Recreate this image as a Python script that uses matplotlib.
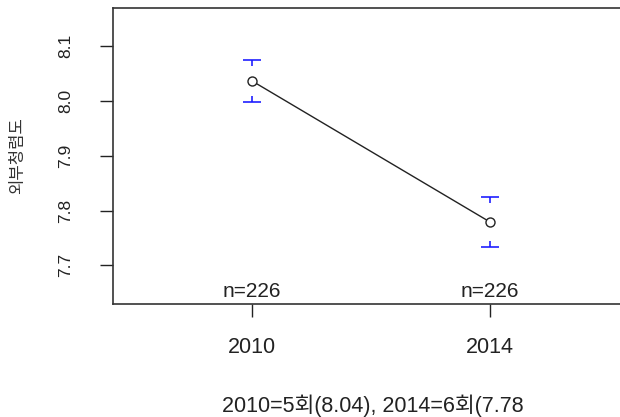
import matplotlib.pyplot as plt
from matplotlib.path import Path

plt.rcParams['font.family'] = ['Liberation Sans', 'Noto Sans CJK KR']

years = ['2010', '2014']
means = [8.036, 7.779]
ci_upper = [8.074, 7.824]
ci_lower = [7.998, 7.733]
counts = [226, 226]
yticks = [7.7, 7.8, 7.9, 8.0, 8.1]
ylabel = '외부청렴도'
xlabel = '2010=5회(8.04), 2014=6회(7.78'

# cap markers: bar with a short stem pointing to the mean
cap_top = Path([(-1, 0), (1, 0), (0, 0), (0, -0.7)],
               [Path.MOVETO, Path.LINETO, Path.MOVETO, Path.LINETO])
cap_bot = Path([(-1, 0), (1, 0), (0, 0), (0, 0.7)],
               [Path.MOVETO, Path.LINETO, Path.MOVETO, Path.LINETO])

fig = plt.figure(figsize=(6.2, 4.17), dpi=100)
ax = fig.add_axes([0.1823, 0.271, 0.8177, 0.7098])

x = [1, 2]
ax.plot(x, means, color='#222222', lw=1.0, zorder=2)
ax.plot(x, means, 'o', ms=6.5, mfc='white', mec='#222222', mew=1.0, zorder=3)
ax.plot(x, ci_upper, ls='none', marker=cap_top, ms=12.5, mec='#2020ff', mew=1.2)
ax.plot(x, ci_lower, ls='none', marker=cap_bot, ms=12.5, mec='#2020ff', mew=1.2)

ax.set_xlim(0.416, 2.546)
ax.set_ylim(7.6297, 8.1689)

for xi, n in zip(x, counts):
    ax.annotate(f'n={n}', (xi, 7.6297), xytext=(0, 2), textcoords='offset points',
                ha='center', va='bottom', fontsize=15, color='#222222')

ax.set_xticks(x)
ax.set_xticklabels(years)
ax.set_yticks(yticks)
ax.set_yticklabels([f'{v:.1f}' for v in yticks], rotation=90, va='center')
ax.tick_params(axis='x', length=9.5, width=1.0, pad=14, labelsize=15.5,
               colors='#222222', direction='out')
ax.tick_params(axis='y', length=9.5, width=1.0, pad=19, labelsize=12.5,
               colors='#222222', direction='out')

for side in ['left', 'bottom', 'top']:
    ax.spines[side].set_linewidth(1.2)
    ax.spines[side].set_color('#333333')
ax.spines['right'].set_visible(False)

fig.text(0.029, 0.628, ylabel, rotation=90, ha='center', va='center',
         fontsize=12, color='#333333', family=['Noto Sans CJK KR'])
fig.text(0.602, 0.026, xlabel, ha='center', va='center', fontsize=15.5,
         color='#222222')

fig.savefig('out.png', dpi=100)
